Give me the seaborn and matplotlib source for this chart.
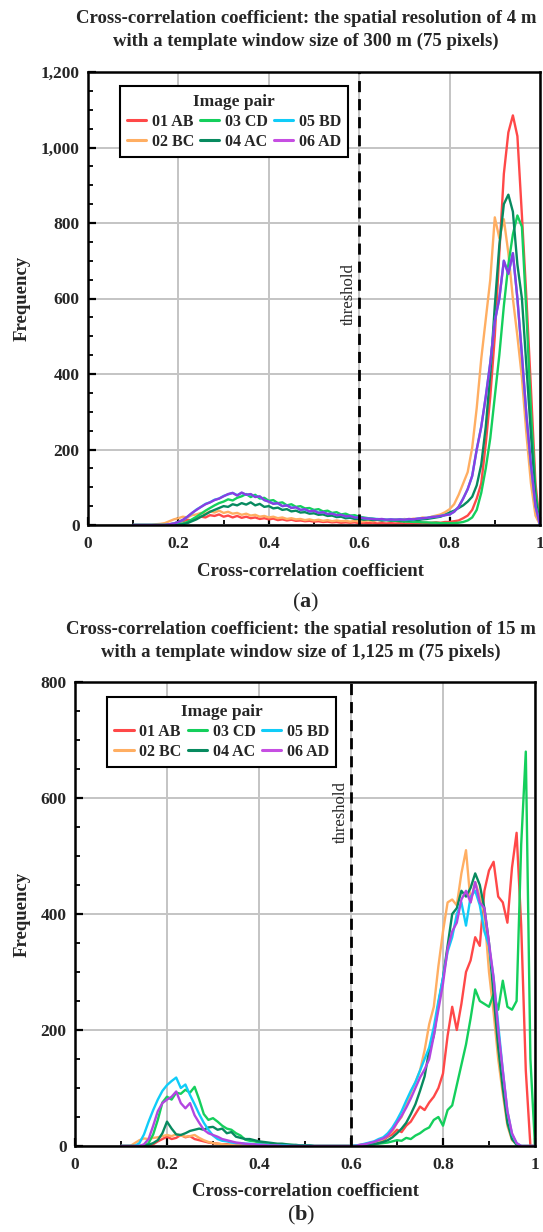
import numpy as np
import pandas as pd
import matplotlib
matplotlib.use("Agg")
import matplotlib.pyplot as plt
from matplotlib.lines import Line2D
from matplotlib.ticker import MultipleLocator, FuncFormatter
import seaborn as sns

# Bin centres of the cross-correlation histograms (0.10 ... 1.00)
coef = np.round(np.arange(10, 101) / 100, 2)
pairs = ["01 AB", "02 BC", "03 CD", "04 AC", "05 BD", "06 AD"]

# ---- 4 m resolution, 300 m template window ----
res4_ab = [0, 0, 0, 0, 0, 0, 0, 0, 2, 4,
           8, 10, 14, 12, 18, 22, 20, 26, 24, 28,
           22, 25, 20, 24, 19, 22, 18, 20, 16, 18,
           15, 17, 13, 15, 12, 14, 11, 12, 10, 11,
           9, 10, 8, 9, 7, 8, 6, 7, 6, 7,
           5, 6, 5, 6, 4, 5, 4, 5, 4, 5,
           4, 5, 4, 5, 6, 5, 6, 7, 6, 8,
           8, 10, 12, 18, 25, 40, 70, 110, 215, 340,
           500, 720, 930, 1040, 1085, 1030, 820, 600, 360, 110,
           0]
res4_bc = [0, 0, 0, 0, 0, 2, 3, 5, 10, 15,
           18, 22, 20, 26, 28, 32, 30, 36, 33, 38,
           32, 35, 30, 32, 27, 30, 25, 27, 22, 24,
           20, 22, 18, 20, 16, 18, 15, 16, 13, 15,
           12, 14, 11, 13, 10, 12, 10, 11, 9, 11,
           9, 10, 12, 10, 13, 11, 14, 12, 15, 13,
           16, 14, 17, 16, 20, 18, 22, 25, 28, 34,
           42, 55, 80, 110, 140, 205, 310, 440, 545, 650,
           815, 760, 810, 720, 600, 500, 390, 240, 110, 25,
           0]
res4_cd = [0, 0, 0, 0, 0, 0, 0, 0, 0, 0,
           2, 4, 8, 15, 22, 30, 38, 45, 52, 58,
           62, 68, 65, 72, 76, 82, 74, 80, 70, 72,
           64, 66, 58, 60, 52, 55, 48, 50, 44, 45,
           40, 42, 36, 38, 32, 34, 28, 30, 25, 26,
           22, 20, 18, 17, 15, 14, 13, 12, 11, 10,
           9, 9, 8, 8, 7, 7, 6, 6, 5, 5,
           5, 5, 6, 8, 12, 20, 40, 85, 150, 230,
           340, 450, 580, 690, 770, 820, 790, 560, 300, 90,
           0]
res4_ac = [0, 0, 0, 0, 0, 0, 0, 0, 0, 0,
           0, 2, 5, 10, 15, 22, 28, 35, 40, 45,
           50, 48, 55, 52, 58, 54, 60, 52, 56, 48,
           50, 44, 46, 40, 42, 36, 38, 33, 34, 30,
           31, 27, 28, 24, 25, 21, 22, 18, 19, 16,
           16, 14, 15, 13, 14, 12, 13, 12, 13, 12,
           13, 12, 14, 13, 15, 16, 18, 20, 22, 27,
           33, 38, 45, 52, 62, 75, 105, 160, 260, 400,
           580, 740, 850, 875, 830, 690, 600, 420, 240, 70,
           0]
res4_bd = [0, 0, 0, 0, 0, 0, 0, 0, 2, 4,
           8, 13, 22, 31, 41, 48, 56, 60, 67, 70,
           77, 81, 85, 79, 85, 80, 81, 75, 75, 66,
           62, 57, 57, 50, 52, 46, 47, 40, 41, 36,
           38, 33, 34, 29, 30, 26, 27, 23, 24, 21,
           20, 18, 17, 16, 16, 15, 14, 15, 14, 15,
           14, 15, 15, 17, 18, 19, 21, 22, 24, 26,
           28, 35, 48, 70, 95, 130, 200, 260, 340, 430,
           540, 600, 700, 665, 720, 600, 450, 290, 160, 50,
           0]
res4_ad = [0, 0, 0, 0, 0, 0, 0, 0, 2, 4,
           8, 14, 22, 32, 40, 48, 55, 60, 66, 70,
           76, 82, 85, 78, 86, 80, 82, 74, 76, 66,
           62, 56, 58, 50, 52, 45, 47, 40, 42, 36,
           38, 32, 34, 29, 30, 26, 27, 23, 24, 20,
           20, 18, 17, 16, 15, 16, 14, 15, 14, 15,
           14, 16, 15, 17, 18, 19, 21, 22, 24, 26,
           28, 35, 48, 70, 95, 130, 200, 260, 340, 430,
           540, 600, 700, 665, 720, 600, 450, 290, 160, 50,
           0]

# ---- 15 m resolution, 1,125 m template window ----
res15_ab = [0, 0, 0, 0, 0, 0, 0, 3, 8, 12,
            16, 12, 14, 19, 15, 17, 12, 10, 8, 6,
            5, 4, 3, 3, 2, 2, 2, 1, 1, 1,
            1, 1, 0, 0, 0, 0, 0, 0, 0, 0,
            0, 0, 0, 0, 0, 0, 0, 0, 0, 0,
            0, 0, 0, 1, 2, 3, 5, 10, 16, 20,
            28, 24, 35, 42, 55, 68, 62, 75, 85, 100,
            125, 190, 240, 200, 245, 300, 320, 360, 345, 440,
            475, 490, 430, 420, 385, 480, 540, 380, 130, 0,
            0]
res15_bc = [0, 0, 0, 5, 10, 13, 12, 14, 15, 17,
            19, 17, 20, 18, 16, 17, 19, 14, 10, 7,
            5, 4, 3, 2, 2, 1, 1, 1, 0, 0,
            0, 0, 0, 0, 0, 0, 0, 0, 0, 0,
            0, 0, 0, 0, 0, 0, 0, 0, 0, 0,
            0, 1, 2, 3, 5, 6, 8, 12, 18, 25,
            40, 50, 70, 92, 110, 130, 165, 210, 240, 310,
            370, 420, 425, 415, 470, 510, 420, 455, 430, 400,
            300, 230, 150, 90, 35, 10, 3, 0, 0, 0,
            0]
res15_cd = [0, 0, 0, 0, 0, 0, 5, 20, 45, 75,
            85, 80, 92, 90, 97, 92, 102, 80, 55, 45,
            48, 42, 35, 30, 28, 22, 18, 11, 9, 8,
            6, 5, 4, 3, 3, 2, 2, 2, 1, 1,
            1, 1, 0, 0, 0, 0, 0, 0, 0, 0,
            0, 0, 1, 1, 2, 3, 4, 5, 6, 8,
            10, 9, 14, 12, 18, 22, 28, 32, 45, 50,
            35, 62, 70, 105, 140, 175, 220, 270, 250, 245,
            240, 262, 235, 285, 240, 235, 250, 520, 680, 150,
            0]
res15_ac = [0, 0, 0, 0, 0, 0, 2, 5, 10, 22,
            42, 30, 20, 19, 22, 26, 28, 30, 28, 32,
            33, 28, 30, 22, 24, 16, 14, 12, 12, 10,
            8, 7, 6, 5, 4, 4, 3, 2, 2, 1,
            1, 1, 0, 0, 0, 0, 0, 0, 0, 0,
            0, 0, 0, 1, 2, 3, 5, 7, 10, 15,
            22, 30, 40, 55, 72, 95, 120, 165, 190, 245,
            290, 345, 400, 410, 440, 430, 445, 470, 450, 410,
            350, 260, 170, 100, 40, 12, 2, 0, 0, 0,
            0]
res15_bd = [0, 0, 0, 0, 5, 20, 42, 62, 80, 95,
            105, 112, 118, 100, 106, 88, 72, 55, 40, 28,
            18, 12, 9, 8, 6, 5, 5, 4, 4, 3,
            3, 2, 2, 1, 1, 1, 1, 0, 0, 0,
            0, 0, 0, 0, 0, 0, 0, 0, 0, 0,
            0, 1, 2, 4, 6, 8, 12, 15, 22, 32,
            45, 60, 78, 95, 110, 130, 150, 170, 205, 250,
            290, 335, 360, 400, 420, 380, 430, 440, 415, 370,
            345, 290, 210, 130, 60, 20, 5, 0, 0, 0,
            0]
res15_ad = [0, 0, 0, 0, 0, 3, 12, 35, 60, 74,
            80, 85, 94, 74, 65, 74, 53, 40, 28, 22,
            19, 16, 12, 10, 8, 6, 5, 4, 3, 3,
            2, 2, 1, 1, 1, 0, 0, 0, 0, 0,
            0, 0, 0, 0, 0, 0, 0, 0, 0, 0,
            0, 0, 2, 3, 5, 7, 10, 13, 18, 28,
            40, 52, 66, 82, 100, 118, 132, 150, 190, 235,
            280, 340, 370, 385, 425, 440, 420, 455, 420, 410,
            350, 290, 200, 130, 60, 22, 5, 0, 0, 0,
            0]

series_4m = [res4_ab, res4_bc, res4_cd, res4_ac, res4_bd, res4_ad]
series_15m = [res15_ab, res15_bc, res15_cd, res15_ac, res15_bd, res15_ad]

legend_colors = {"01 AB": "#ff4848", "02 BC": "#ffae62", "03 CD": "#14cf5c",
                 "04 AC": "#078a5f", "05 BD": "#10ccf8", "06 AD": "#c64ee2"}
palette_4m = dict(legend_colors, **{"06 AD": "#8a3ee0"})
palette_15m = dict(legend_colors, **{"06 AD": "#b246e0"})


def long_frame(series):
    return pd.DataFrame({
        "coef": np.tile(coef, len(pairs)),
        "freq": np.concatenate([np.asarray(s, dtype=float) for s in series]),
        "pair": np.repeat(pairs, len(coef)),
    })


sns.set_theme(style="white")
plt.rcParams["font.family"] = ["Liberation Serif", "DejaVu Serif"]
plt.rcParams["mathtext.fontset"] = "custom"
plt.rcParams["mathtext.rm"] = "Liberation Serif"
plt.rcParams["mathtext.bf"] = "Liberation Serif:bold"

W, H = 543, 1232
fig = plt.figure(figsize=(W / 100, H / 100), dpi=100)
fig.patch.set_facecolor("white")


def px_axes(left, top, right, bottom):
    return fig.add_axes([left / W, 1 - bottom / H, (right - left) / W, (bottom - top) / H])


bold = dict(family="Liberation Serif", weight="bold")


def draw_panel(ax, series, palette, ymax, title, tag, xlabel_y, tag_y, title_y, title_x, thr_y):
    df = long_frame(series)
    sns.lineplot(data=df, x="coef", y="freq", hue="pair", hue_order=pairs,
                 palette=palette, estimator=None, linewidth=1.7, ax=ax, legend=False)
    ax.set_xlim(0, 1)
    ax.set_ylim(0, ymax)
    ax.xaxis.set_major_locator(MultipleLocator(0.2))
    ax.xaxis.set_minor_locator(MultipleLocator(0.1))
    ax.yaxis.set_major_locator(MultipleLocator(200))
    ax.yaxis.set_minor_locator(MultipleLocator(50))
    ax.xaxis.set_major_formatter(FuncFormatter(lambda v, p: f"{v:g}"))
    ax.yaxis.set_major_formatter(FuncFormatter(lambda v, p: f"{int(round(v)):,}"))
    ax.grid(True, which="major", color="#c4c4c4", linewidth=1.4)
    ax.set_axisbelow(True)
    for sp in ax.spines.values():
        sp.set_color("black")
        sp.set_linewidth(1.8)
    ax.tick_params(which="both", direction="in", top=False, right=False,
                   bottom=True, left=True, color="black")
    ax.tick_params(which="major", length=6, width=1.6)
    ax.tick_params(axis="x", which="major", pad=8)
    ax.tick_params(axis="y", which="major", pad=6)
    ax.tick_params(which="minor", length=3.5, width=1.3)
    for lab in ax.get_xticklabels() + ax.get_yticklabels():
        lab.set_fontfamily("Liberation Serif")
        lab.set_fontweight("bold")
        lab.set_fontsize(12.5)
    ax.set_xlabel("")
    ax.set_ylabel("Frequency", fontsize=13.5, labelpad=7, **bold)

    ax.axvline(0.6, color="black", linewidth=2, linestyle=(0, (4, 2.5)), zorder=3)
    ax.text(0.577, thr_y, "threshold", rotation=90, ha="center", va="center",
            fontsize=12, family="Liberation Serif", zorder=4)

    handles = [Line2D([0], [0], color=legend_colors[p], linewidth=2.2) for p in pairs]
    leg = ax.legend(handles, pairs, title="Image pair", ncol=3, loc="upper left",
                    bbox_to_anchor=(0.07, 0.968), borderaxespad=0, frameon=True,
                    fancybox=False, edgecolor="black", framealpha=1,
                    prop=dict(family="Liberation Serif", weight="bold", size=11.5),
                    title_fontproperties=dict(family="Liberation Serif", weight="bold", size=12.5),
                    handlelength=1.2, handletextpad=0.35, columnspacing=0.4,
                    labelspacing=0.25, borderpad=0.45)
    leg.get_frame().set_linewidth(1.5)

    fig.text(title_x / W, 1 - title_y / H, title, ha="center", va="center",
             fontsize=13.5, linespacing=1.45, **bold)
    fig.text(title_x / W + 0.008, 1 - xlabel_y / H, "Cross-correlation coefficient",
             ha="center", va="center", fontsize=13.5, **bold)
    fig.text(title_x / W, 1 - tag_y / H, r"($\mathbf{" + tag + "}$)", ha="center",
             va="center", fontsize=16, family="Liberation Serif")


ax_a = px_axes(88, 72, 540, 525)
draw_panel(ax_a, series_4m, palette_4m, 1200,
           "Cross-correlation coefficient: the spatial resolution of 4 m\n"
           "with a template window size of 300 m (75 pixels)",
           "a", 572, 602, 30, 306, 612)

ax_b = px_axes(75, 682, 535, 1146)
draw_panel(ax_b, series_15m, palette_15m, 800,
           "Cross-correlation coefficient: the spatial resolution of 15 m\n"
           "with a template window size of 1,125 m (75 pixels)",
           "b", 1192, 1215, 641, 301, 576)

fig.savefig("out.png", dpi=100, facecolor="white")
